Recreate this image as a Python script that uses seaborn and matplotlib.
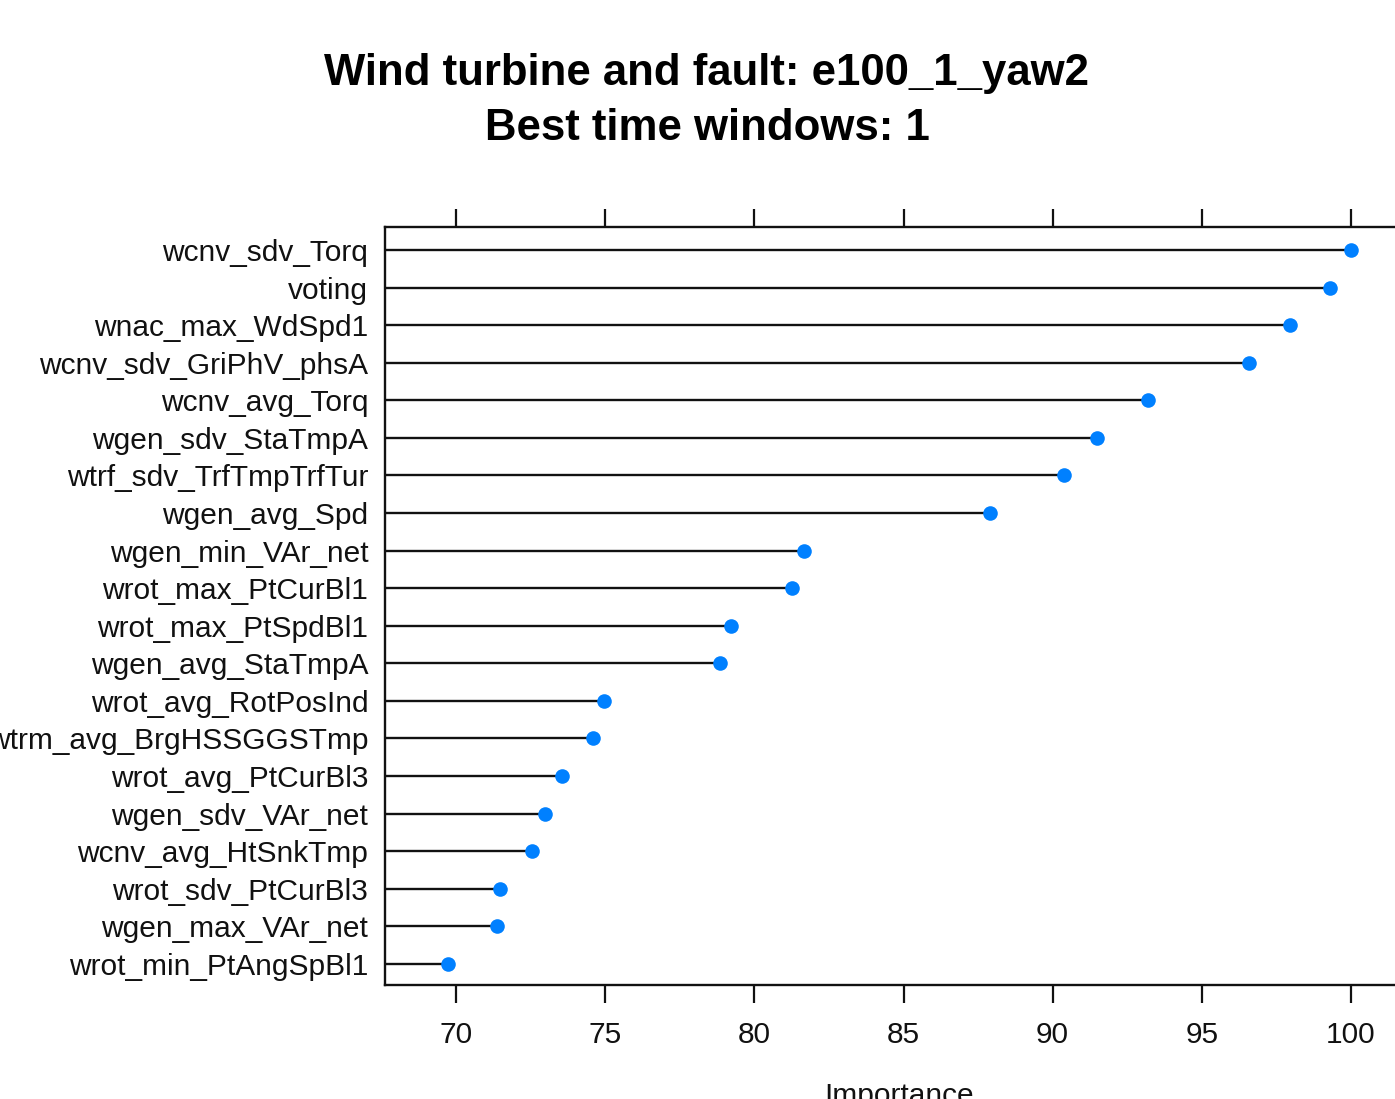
import matplotlib
matplotlib.use("Agg")
import matplotlib.pyplot as plt
import seaborn as sns
import numpy as np
import pandas as pd

features = [
    "wcnv_sdv_Torq", "voting", "wnac_max_WdSpd1", "wcnv_sdv_GriPhV_phsA",
    "wcnv_avg_Torq", "wgen_sdv_StaTmpA", "wtrf_sdv_TrfTmpTrfTur", "wgen_avg_Spd",
    "wgen_min_VAr_net", "wrot_max_PtCurBl1", "wrot_max_PtSpdBl1", "wgen_avg_StaTmpA",
    "wrot_avg_RotPosInd", "wtrm_avg_BrgHSSGGSTmp", "wrot_avg_PtCurBl3", "wgen_sdv_VAr_net",
    "wcnv_avg_HtSnkTmp", "wrot_sdv_PtCurBl3", "wgen_max_VAr_net", "wrot_min_PtAngSpBl1",
]
importance = [
    100.0, 99.3, 97.95, 96.6,
    93.2, 91.5, 90.37, 87.9,
    81.65, 81.25, 79.2, 78.85,
    74.95, 74.6, 73.55, 72.99,
    72.55, 71.48, 71.38, 69.73,
]
xticks = [70, 75, 80, 85, 90, 95, 100]

title_line1 = "Wind turbine and fault: e100_1_yaw2"
title_line2 = "Best time windows: 1"
xlabel = "Importance"

df = pd.DataFrame({"feature": features, "importance": importance})

sns.set_style("white")
plt.rcParams["font.family"] = ["Liberation Sans", "DejaVu Sans"]

W, H = 1395, 1099
fig = plt.figure(figsize=(W / 100, H / 100), dpi=100, facecolor="white")
# axes box in pixels: left 385, right ~1414 (beyond crop), top 227, bottom 985
ax = fig.add_axes([385 / W, 1 - 985 / H, (1414 - 385) / W, (985 - 227) / H])
ax.set_facecolor("white")

vmin, vmax = min(importance), max(importance)
rng = vmax - vmin
xlo, xhi = vmin - 0.07 * rng, vmax + 0.07 * rng

n = len(features)
ax.hlines(y=np.arange(n), xmin=xlo, xmax=df["importance"], color="#111111", lw=1.7, zorder=2)
sns.stripplot(data=df, x="importance", y="feature", order=features, jitter=False,
              color="#0080ff", size=10.5, linewidth=0, ax=ax, zorder=3)

ax.set_xlim(xlo, xhi)
ax.set_ylim(n - 1 + 0.56, -0.61)
ax.set_xticks(xticks)
ax.set_xticklabels([str(t) for t in xticks])

for s in ax.spines.values():
    s.set_visible(True)
    s.set_color("#111111")
    s.set_linewidth(1.7)

ax.tick_params(axis="x", which="both", direction="out", length=13, width=1.6,
               color="#111111", top=True, bottom=True, labeltop=False,
               labelbottom=True, labelsize=21.5, pad=13, labelcolor="#111111")
ax.tick_params(axis="y", length=0, labelsize=21.5, pad=12, labelcolor="#111111")
ax.set_ylabel("")
ax.set_xlabel(xlabel, fontsize=21.5, labelpad=24, color="#111111")

fig.text(707 / W, 1 - 73 / H, title_line1, ha="center", va="center",
         fontsize=31.5, fontweight="bold", color="#000000")
fig.text(707 / W, 1 - 128 / H, title_line2, ha="center", va="center",
         fontsize=31.5, fontweight="bold", color="#000000")

fig.savefig("out.png", dpi=100, facecolor="white")
